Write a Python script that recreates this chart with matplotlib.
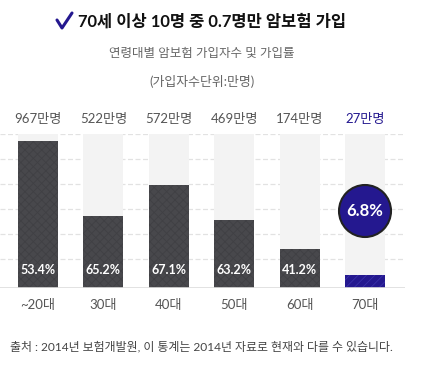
import matplotlib
matplotlib.use("Agg")
import matplotlib.pyplot as plt
from matplotlib.patches import Circle
from matplotlib.lines import Line2D

plt.rcParams['font.family'] = ['Lato', 'Noto Sans CJK KR', 'DejaVu Sans']
plt.rcParams['hatch.linewidth'] = 0.6

ages = ['~20대', '30대', '40대', '50대', '60대', '70대']
counts = ['967만명', '522만명', '572만명', '469만명', '174만명', '27만명']
rates = ['53.4%', '65.2%', '67.1%', '63.2%', '41.2%', '6.8%']
bar_heights = [95.5, 46.8, 66.9, 44.2, 25.3, 8.4]

dark = '#48484c'
navy = '#24188f'
bg = '#f3f3f3'

fig = plt.figure(figsize=(4.38, 3.86), dpi=100)
ax = fig.add_axes([0, 1 - 288 / 386, 405 / 438, 154 / 386])
x = list(range(len(ages)))
w = 0.61

# dashed grid behind the bars
for gy in [100, 83.8, 67.5, 51.3, 35.1, 18.8]:
    ax.axhline(gy, color='#e2e2e2', lw=0.9, ls=(0, (4, 2)), zorder=0)
ax.axhline(0, color='#dddddd', lw=1.2, zorder=4)

ax.bar(x, [100] * len(x), width=w, color=bg, zorder=1)
colors = [dark] * 5 + [navy]
hatches = ['xxxx'] * 5 + ['////']
bars = ax.bar(x, bar_heights, width=w, color=colors, zorder=2, lw=0)
for b, h in zip(bars, hatches):
    b.set_hatch(h)
    b.set_edgecolor('#404044' if h == 'xxxx' else '#3a30a8')

for i in range(5):
    ax.text(x[i], 11.5, rates[i], ha='center', va='center', color='white',
            fontsize=9, fontweight='bold', zorder=5)

for i in range(len(x)):
    ax.text(x[i], 110, counts[i], ha='center', va='center', fontsize=9.5,
            color=navy if i == 5 else '#555555')
    ax.text(x[i], -11, ages[i], ha='center', va='center', fontsize=9.5,
            color='#555555')

ax.set_xlim(-0.58, 5.61)
ax.set_ylim(0, 100)
ax.axis('off')

# highlight circle for 70대
circ = Circle((365, 386 - 211), 26, transform=None, facecolor=navy,
              edgecolor='#222222', lw=1.5, zorder=6)
fig.patches.append(circ)
fig.text(365 / 438, 1 - 211 / 386, rates[5], ha='center', va='center',
         color='white', fontsize=12, fontweight='bold', zorder=7)

# check mark before the title
fig.lines.append(Line2D([57 / 438, 62 / 438, 72 / 438],
                        [1 - 20 / 386, 1 - 28 / 386, 1 - 13 / 386],
                        transform=fig.transFigure, color=navy, lw=2.2,
                        solid_capstyle='round', solid_joinstyle='round'))
fig.text(212 / 438, 1 - 22 / 386, '70세 이상 10명 중 0.7명만 암보험 가입',
         ha='center', va='center', fontsize=11.9, fontweight='bold',
         color='#111111')
fig.text(202 / 438, 1 - 53 / 386, '연령대별 암보험 가입자수 및 가입률',
         ha='center', va='center', fontsize=9, color='#666666')
fig.text(202 / 438, 1 - 81 / 386, '(가입자수단위:만명)',
         ha='center', va='center', fontsize=9.3, color='#666666')
fig.text(10 / 438, 1 - 347 / 386,
         '출처 : 2014년 보험개발원, 이 통계는 2014년 자료로 현재와 다를 수 있습니다.',
         ha='left', va='center', fontsize=8.6, color='#444444')

fig.savefig('out.png', dpi=100)
